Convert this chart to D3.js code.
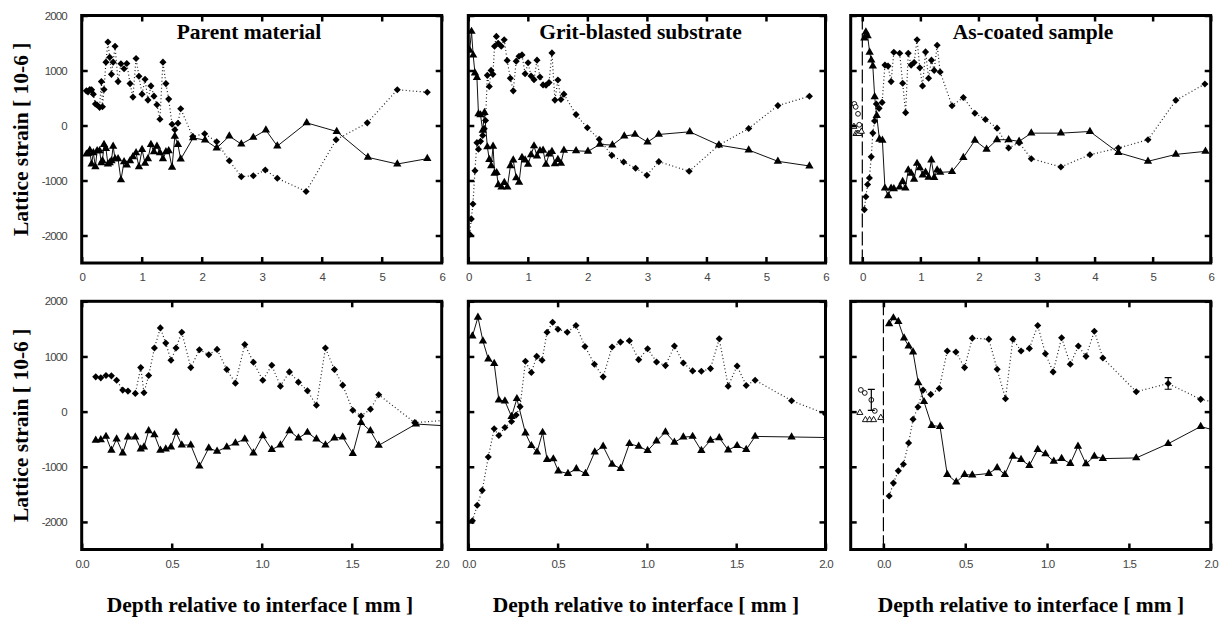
<!DOCTYPE html>
<html>
<head>
<meta charset="utf-8">
<script src="https://cdn.jsdelivr.net/npm/d3@7"></script>
<style>
  body { margin: 0; background: #fff; }
  .tick text { font-family: "Liberation Sans", Arial, sans-serif; font-size: 11.5px; letter-spacing: -0.9px; fill: #444; }
  .lbl { font-family: "Liberation Serif", "Times New Roman", serif; font-weight: bold; font-size: 21.5px; fill: #000; }
</style>
</head>
<body>
<svg id="chart" width="1226" height="619"></svg>
<script>
const TITLES = ["Parent material", "Grit-blasted substrate", "As-coated sample"];
const Y_LABEL = "Lattice strain [ 10-6 ]";
const X_LABEL = "Depth relative to interface [ mm ]";
const Y_TICKS = [-2000, -1000, 0, 1000, 2000];
const FULL_X_TICKS = [0, 1, 2, 3, 4, 5, 6];
const NEAR_X_TICKS = [0, 0.5, 1, 1.5, 2];

// [depth mm, strain 1e-6]
const parentDiamonds = [[0.078,630],[0.106,612],[0.135,654],[0.165,648],[0.194,570],[0.228,390],[0.257,372],[0.298,330],[0.328,798],[0.346,342],[0.372,654],[0.404,1152],[0.437,1518],[0.467,1242],[0.496,930],[0.524,1152],[0.556,1440],[0.606,798],[0.654,1122],[0.706,1032],[0.752,1128],[0.806,762],[0.854,516],[0.906,1218],[0.954,894],[1.006,570],[1.056,840],[1.104,462],[1.154,720],[1.204,534],[1.254,378],[1.304,114],[1.354,1152],[1.404,762],[1.45,480],[1.506,24],[1.552,-78],[1.604,42],[1.65,306],[1.85,-200],[2.05,-150],[2.25,-295],[2.46,-640],[2.66,-930],[2.86,-915],[3.06,-810],[3.26,-960],[3.74,-1200],[4.24,-260],[4.76,48],[5.26,650],[5.76,605]];
const parentTriangles = [[0.078,-522],[0.106,-510],[0.135,-450],[0.165,-702],[0.194,-498],[0.228,-750],[0.257,-462],[0.298,-462],[0.328,-678],[0.346,-642],[0.372,-348],[0.404,-420],[0.437,-702],[0.467,-678],[0.496,-642],[0.524,-378],[0.556,-606],[0.606,-606],[0.654,-990],[0.706,-660],[0.752,-720],[0.806,-642],[0.854,-570],[0.906,-498],[0.954,-750],[1.006,-438],[1.056,-690],[1.104,-606],[1.154,-348],[1.204,-480],[1.254,-378],[1.304,-498],[1.354,-606],[1.404,-480],[1.45,-462],[1.506,-762],[1.552,-198],[1.604,-348],[1.65,-612],[1.857,-225],[2.056,-265],[2.25,-410],[2.46,-193],[2.66,-338],[2.86,-217],[3.07,-84],[3.26,-374],[3.75,48],[4.25,-109],[4.77,-579],[5.26,-700],[5.76,-603]];

const gritDiamonds = [[0.023,-1980],[0.05,-1698],[0.078,-1428],[0.112,-822],[0.145,-312],[0.171,-432],[0.205,-288],[0.242,-180],[0.268,-60],[0.29,90],[0.32,912],[0.353,708],[0.383,1002],[0.413,930],[0.441,1440],[0.472,1620],[0.502,1494],[0.554,1440],[0.603,1560],[0.653,1182],[0.706,858],[0.755,630],[0.805,1170],[0.852,1260],[0.902,1284],[0.954,942],[1.004,1140],[1.054,900],[1.104,834],[1.154,1188],[1.204,882],[1.256,738],[1.305,732],[1.356,780],[1.405,1320],[1.455,462],[1.505,828],[1.556,474],[1.606,570],[1.81,198],[2.0,-42],[2.2,-250],[2.41,-543],[2.61,-663],[2.81,-778],[3.0,-904],[3.2,-657],[3.71,-832],[4.21,-356],[4.71,-54],[5.2,362],[5.73,531]];
const gritTriangles = [[0.023,1368],[0.054,1710],[0.082,1278],[0.112,954],[0.145,870],[0.171,210],[0.205,192],[0.242,-90],[0.272,234],[0.32,-390],[0.353,-618],[0.385,-732],[0.416,-378],[0.441,-870],[0.476,-858],[0.504,-1080],[0.558,-1122],[0.605,-1038],[0.656,-1122],[0.708,-732],[0.755,-630],[0.805,-954],[0.853,-1032],[0.902,-582],[0.954,-630],[1.004,-708],[1.054,-534],[1.104,-372],[1.154,-558],[1.204,-462],[1.256,-450],[1.305,-708],[1.356,-522],[1.405,-474],[1.455,-696],[1.505,-618],[1.556,-690],[1.606,-450],[1.81,-460],[2.01,-470],[2.21,-344],[2.42,-356],[2.62,-193],[2.8,-163],[3.01,-302],[3.2,-163],[3.72,-115],[4.21,-356],[4.71,-446],[5.2,-651],[5.73,-736]];

const coatedDiamonds = [[0.035,-1530],[0.061,-1296],[0.091,-1074],[0.122,-954],[0.154,-570],[0.181,-138],[0.211,84],[0.242,390],[0.289,312],[0.341,420],[0.39,1098],[0.443,1080],[0.496,798],[0.543,1332],[0.644,1314],[0.695,768],[0.746,234],[0.791,1314],[0.841,1098],[0.892,1146],[0.943,1560],[0.99,1050],[1.037,720],[1.089,1338],[1.142,858],[1.191,1188],[1.238,1002],[1.289,1458],[1.341,972],[1.545,360],[1.74,510],[1.939,222],[2.12,109],[2.32,-48],[2.52,-410],[2.7,-314],[2.91,-603],[3.42,-754],[3.92,-531],[4.41,-410],[4.92,-259],[5.4,458],[5.9,754]];
const coatedTriangles = [[0.035,1590],[0.061,1698],[0.091,1632],[0.126,1332],[0.154,1188],[0.181,1080],[0.213,522],[0.248,180],[0.295,-252],[0.346,-270],[0.39,-1140],[0.445,-1278],[0.496,-1140],[0.543,-1152],[0.644,-1122],[0.695,-1020],[0.742,-1140],[0.791,-810],[0.841,-870],[0.892,-978],[0.943,-690],[0.99,-768],[1.041,-900],[1.089,-852],[1.142,-942],[1.189,-630],[1.238,-948],[1.289,-810],[1.341,-852],[1.545,-840],[1.74,-582],[1.939,-270],[2.14,-434],[2.32,-259],[2.52,-259],[2.7,-289],[2.91,-139],[3.42,-139],[3.92,-109],[4.41,-494],[4.92,-651],[5.4,-525],[5.91,-470]];

// measurements inside the coating (open symbols)
const coatingCircles = [[-0.138,393],[-0.114,339],[-0.074,212],[-0.053,13]];
const coatingTriangles = [[-0.144,-20],[-0.11,-150],[-0.085,-150],[-0.06,-150],[-0.016,-110]];
// [depth, strain, half range]
const coatedErrors = [[1.74,510,105],[-0.074,212,190]];

const columns = [
  {title: TITLES[0], xMin: 0, dotted: parentDiamonds, solid: parentTriangles, x0: 81.7, x1: 441.7, titleX: 249, labelX: 260},
  {title: TITLES[1], xMin: 0, dotted: gritDiamonds, solid: gritTriangles, x0: 468.3, x1: 825.5, titleX: 640.5, labelX: 646},
  {title: TITLES[2], xMin: -0.2, dotted: coatedDiamonds, solid: coatedTriangles, x0: 850.7, x1: 1210.7, titleX: 1033, labelX: 1031,
   openCircles: coatingCircles, openTriangles: coatingTriangles, errors: coatedErrors}
];
const rows = [
  {y0: 15.5, y1: 263, xMax: 6, ticks: FULL_X_TICKS, fmt: d => String(d)},
  {y0: 301.3, y1: 549.5, xMax: 2, ticks: NEAR_X_TICKS, fmt: d3.format(".1f")}
];

const svg = d3.select("#chart");
const diamond = d3.symbol().type(d3.symbolSquare).size(25);
const tri = d3.symbol().type(d3.symbolTriangle).size(30);
const smallTri = d3.symbol().type(d3.symbolTriangle).size(16);

rows.forEach((row, r) => {
  columns.forEach((col, c) => {
    const x = d3.scaleLinear().domain([col.xMin, row.xMax]).range([col.x0, col.x1]);
    const y = d3.scaleLinear().domain([-2500, 2000]).range([row.y1, row.y0]);
    const id = "clip" + r + c;

    svg.append("clipPath").attr("id", id)
      .append("rect")
        .attr("x", col.x0).attr("y", row.y0)
        .attr("width", col.x1 - col.x0).attr("height", row.y1 - row.y0);

    const g = svg.append("g").attr("clip-path", "url(#" + id + ")");

    if (col.xMin < 0) {
      g.append("line")
        .attr("x1", x(0)).attr("x2", x(0))
        .attr("y1", row.y0).attr("y2", row.y1)
        .attr("stroke", "#000").attr("stroke-width", 1.2)
        .attr("stroke-dasharray", "14,4");
    }

    const line = d3.line().x(d => x(d[0])).y(d => y(d[1]));

    g.append("path").datum(col.dotted)
      .attr("d", line)
      .attr("fill", "none").attr("stroke", "#222")
      .attr("stroke-width", 1.2).attr("stroke-dasharray", "1,2.5");

    g.append("path").datum(col.solid)
      .attr("d", line)
      .attr("fill", "none").attr("stroke", "#111").attr("stroke-width", 1);

    g.selectAll(".dm")
      .data(col.dotted)
      .enter()
      .append("path")
        .attr("d", diamond)
        .attr("transform", d => "translate(" + x(d[0]) + "," + y(d[1]) + ") rotate(45)")
        .attr("fill", "#000");

    g.selectAll(".tr")
      .data(col.solid)
      .enter()
      .append("path")
        .attr("d", tri)
        .attr("transform", d => "translate(" + x(d[0]) + "," + y(d[1]) + ")")
        .attr("fill", "#000");

    if (col.openCircles) {
      g.selectAll(".oc")
        .data(col.openCircles)
        .enter()
        .append("circle")
          .attr("cx", d => x(d[0])).attr("cy", d => y(d[1])).attr("r", 2.4)
          .attr("fill", "#fff").attr("stroke", "#000").attr("stroke-width", 0.9);

      g.selectAll(".ot")
        .data(col.openTriangles)
        .enter()
        .append("path")
          .attr("d", smallTri)
          .attr("transform", d => "translate(" + x(d[0]) + "," + y(d[1]) + ")")
          .attr("fill", "#fff").attr("stroke", "#000").attr("stroke-width", 0.9);
    }

    if (col.errors && r === 1) {
      col.errors.forEach(e => {
        const eb = g.append("g").attr("stroke", "#000").attr("stroke-width", 1.2);
        eb.append("line").attr("x1", x(e[0])).attr("x2", x(e[0]))
          .attr("y1", y(e[1] - e[2])).attr("y2", y(e[1] + e[2]));
        [e[1] - e[2], e[1] + e[2]].forEach(v => {
          eb.append("line").attr("x1", x(e[0]) - 3.5).attr("x2", x(e[0]) + 3.5)
            .attr("y1", y(v)).attr("y2", y(v));
        });
      });
    }

    // inward ticks on all four sides
    const ax = svg.append("g");
    ax.append("g").attr("transform", "translate(0," + row.y1 + ")")
      .call(d3.axisBottom(x).tickValues(row.ticks).tickSize(-6).tickPadding(10).tickFormat(row.fmt));
    ax.append("g").attr("transform", "translate(0," + row.y0 + ")")
      .call(d3.axisTop(x).tickValues(row.ticks).tickSize(-6).tickFormat(""));
    ax.append("g").attr("transform", "translate(" + col.x0 + ",0)")
      .call(d3.axisLeft(y).tickValues(Y_TICKS).tickSize(-6).tickPadding(15)
        .tickFormat(c === 0 ? (d => String(d)) : ""));
    ax.append("g").attr("transform", "translate(" + col.x1 + ",0)")
      .call(d3.axisRight(y).tickValues(Y_TICKS).tickSize(-6).tickFormat(""));
    ax.selectAll(".domain").remove();
    ax.selectAll(".tick line").attr("stroke", "#000").attr("stroke-width", 2.5);

    svg.append("rect")
      .attr("x", col.x0).attr("y", row.y0)
      .attr("width", col.x1 - col.x0).attr("height", row.y1 - row.y0)
      .attr("fill", "none").attr("stroke", "#000").attr("stroke-width", 3);

    if (r === 0) {
      svg.append("text").attr("class", "lbl")
        .attr("x", col.titleX).attr("y", 39)
        .attr("text-anchor", "middle")
        .text(col.title);
    } else {
      svg.append("text").attr("class", "lbl")
        .attr("x", col.labelX).attr("y", 612)
        .attr("text-anchor", "middle")
        .text(X_LABEL);
    }
  });

  svg.append("text").attr("class", "lbl")
    .attr("transform", "translate(28," + ((row.y0 + row.y1) / 2) + ") rotate(-90)")
    .attr("text-anchor", "middle")
    .text(Y_LABEL);
});
</script>
</body>
</html>
